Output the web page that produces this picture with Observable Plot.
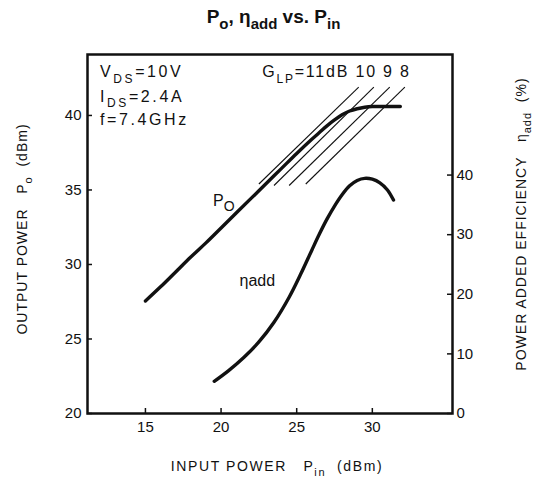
<!DOCTYPE html>
<html><head><meta charset="utf-8">
<script src="https://cdn.jsdelivr.net/npm/d3@7"></script>
<script src="https://cdn.jsdelivr.net/npm/@observablehq/plot@0.6"></script>
<style>
body{margin:0;background:#fff}
#chart svg{font-family:"Liberation Sans",Arial,sans-serif;display:block}
</style>
</head><body><div id="chart"></div><script>
// ---- data ----
const xTicks = [15, 20, 25, 30];
const yTicks = [20, 25, 30, 35, 40];
const etaTicks = [0, 10, 20, 30, 40];
const xDomain = [11.17, 35.3];
const yDomain = [20, 44.09];
const etaPerDb = 2.5; // right axis: 10 % per 4 dB of the left axis

// output power curve P_o (dBm) vs P_in (dBm)
const poPin = [15, 16, 17, 18, 19, 20, 21, 22, 23, 24, 25, 26, 26.5, 27, 27.5, 28, 28.5, 29, 29.5, 30, 31, 31.85];
const poOut = [27.55, 28.5, 29.5, 30.5, 31.45, 32.45, 33.45, 34.45, 35.45, 36.45, 37.45, 38.4, 38.85, 39.3, 39.7, 40.05, 40.3, 40.45, 40.55, 40.6, 40.6, 40.6];

// power added efficiency (%) vs P_in (dBm)
const etaPin = [19.55, 20.5, 21.5, 22.5, 23.5, 24.5, 25.25, 26, 26.5, 27, 27.5, 28, 28.5, 29, 29.5, 30, 30.5, 31, 31.4];
const etaVal = [5.4, 7.2, 9.4, 12.0, 15.3, 19.5, 23.3, 27.4, 30.1, 32.6, 34.8, 36.7, 38.2, 39.1, 39.45, 39.3, 38.7, 37.5, 35.8];

// constant linear-gain lines G_LP (as drawn)
const gainLabels = ["11dB", "10", "9", "8"];
const gainPinLow = [22.5, 23.5, 24.5, 25.6];
const gainPoLow = [35.4, 35.3, 35.3, 35.4];
const gainPinHigh = [29.1, 30.1, 31.15, 32.15];
const gainPoHigh = [41.9, 41.9, 41.9, 41.9];

// ---- layout ----
const W = 541, H = 494;
const M = {top: 54, right: 89, bottom: 81, left: 87};
const innerW = W - M.left - M.right, innerH = H - M.top - M.bottom;
const etaToY = e => yDomain[0] + e / etaPerDb;
const ink = "#111";

const chart = Plot.plot({
  width: W, height: H,
  marginTop: M.top, marginRight: M.right, marginBottom: M.bottom, marginLeft: M.left,
  style: {fontFamily: "Liberation Sans, Arial, sans-serif", background: "#fff", color: ink},
  x: {domain: xDomain},
  y: {domain: yDomain},
  marks: [
    Plot.axisX(xTicks, {tickSize: 0, tickPadding: 8, fontSize: 15, label: null}),
    Plot.axisY(yTicks, {anchor: "left", tickSize: 0, tickPadding: 6, fontSize: 15, label: null}),
    Plot.axisY(etaTicks.map(etaToY), {anchor: "right", tickSize: 0, tickPadding: 4, fontSize: 15, label: null,
      tickFormat: v => String(Math.round((v - yDomain[0]) * etaPerDb))}),
    Plot.tickX(xTicks, {x: d => d, insetTop: innerH - 5, stroke: ink, strokeWidth: 1.5}),
    Plot.tickY(yTicks, {y: d => d, insetRight: innerW - 5, stroke: ink, strokeWidth: 1.5}),
    Plot.tickY(etaTicks, {y: etaToY, insetLeft: innerW - 5, stroke: ink, strokeWidth: 1.5}),
    Plot.link(d3.range(gainLabels.length), {
      x1: i => gainPinLow[i], y1: i => gainPoLow[i],
      x2: i => gainPinHigh[i], y2: i => gainPoHigh[i],
      stroke: ink, strokeWidth: 1.1
    }),
    Plot.line(poPin, {x: d => d, y: (d, i) => poOut[i], curve: "catmull-rom", stroke: ink, strokeWidth: 3.4}),
    Plot.line(etaPin, {x: d => d, y: (d, i) => etaToY(etaVal[i]), curve: "catmull-rom", stroke: ink, strokeWidth: 3.4}),
    Plot.frame({stroke: ink, strokeWidth: 2.5})
  ]
});
document.getElementById("chart").append(chart);

// ---- rich text (subscripts) ----
const svg = d3.select(chart);
const sx = chart.scale("x"), sy = chart.scale("y");
function rich(x, y, parts, {size = 15, sub = 11, weight = "normal", anchor = "start", rotate = 0, spacing = 0, drop = 0.45} = {}) {
  const t = svg.append("text")
    .attr("transform", `translate(${x},${y}) rotate(${rotate})`)
    .attr("text-anchor", anchor)
    .attr("font-size", size).attr("font-weight", weight)
    .attr("letter-spacing", spacing)
    .attr("fill", ink)
    .style("white-space", "pre")
    .attr("dy", "0.36em");
  let shifted = false;
  for (const [str, isSub] of parts) {
    const ts = t.append("tspan").text(str);
    if (isSub && !shifted) { ts.attr("dy", sub * drop).attr("font-size", sub); shifted = true; }
    else if (isSub) { ts.attr("font-size", sub); }
    else if (!isSub && shifted) { ts.attr("dy", -sub * drop); shifted = false; }
  }
  return t;
}

// title
rich(W / 2 + 3, 16, [["P"], ["o", 1], [", "], ["η"], ["add", 1], [" vs. "], ["P"], ["in", 1]],
  {size: 19, sub: 15, weight: "bold", anchor: "middle", drop: 0.4});
// axis titles
rich(22, 229, [["OUTPUT POWER   P"], ["o", 1], ["  (dBm)"]], {size: 14, sub: 11, anchor: "middle", rotate: -90, spacing: 1});
rich(521, 224, [["POWER ADDED EFFICIENCY   η"], ["add", 1], ["  (%)"]], {size: 14, sub: 11, anchor: "middle", rotate: -90, spacing: 1});
rich(277, 466, [["INPUT POWER   P"], ["in", 1], ["  (dBm)"]], {size: 14, sub: 11, anchor: "middle", spacing: 1.6});
// conditions
rich(sx.apply(12.03), sy.apply(42.9), [["V"], ["DS", 1], ["=10V"]], {size: 16, sub: 12, spacing: 2.6});
rich(sx.apply(12.03), sy.apply(41.25), [["I"], ["DS", 1], ["=2.4A"]], {size: 16, sub: 12, spacing: 2.6});
rich(sx.apply(12.03), sy.apply(39.68), [["f=7.4GHz"]], {size: 16, spacing: 2.6});
// gain line labels
rich(sx.apply(22.75), sy.apply(42.9), [["G"], ["LP", 1], ["=11dB 10 9 8"]], {size: 16, sub: 12, spacing: 1.8});
// curve labels
rich(sx.apply(19.5), sy.apply(34.25), [["P"], ["O", 1]], {size: 16, sub: 14, drop: 0.3});
rich(sx.apply(21.25), sy.apply(28.9), [["η"], ["add"]], {size: 16});
</script></body></html>
